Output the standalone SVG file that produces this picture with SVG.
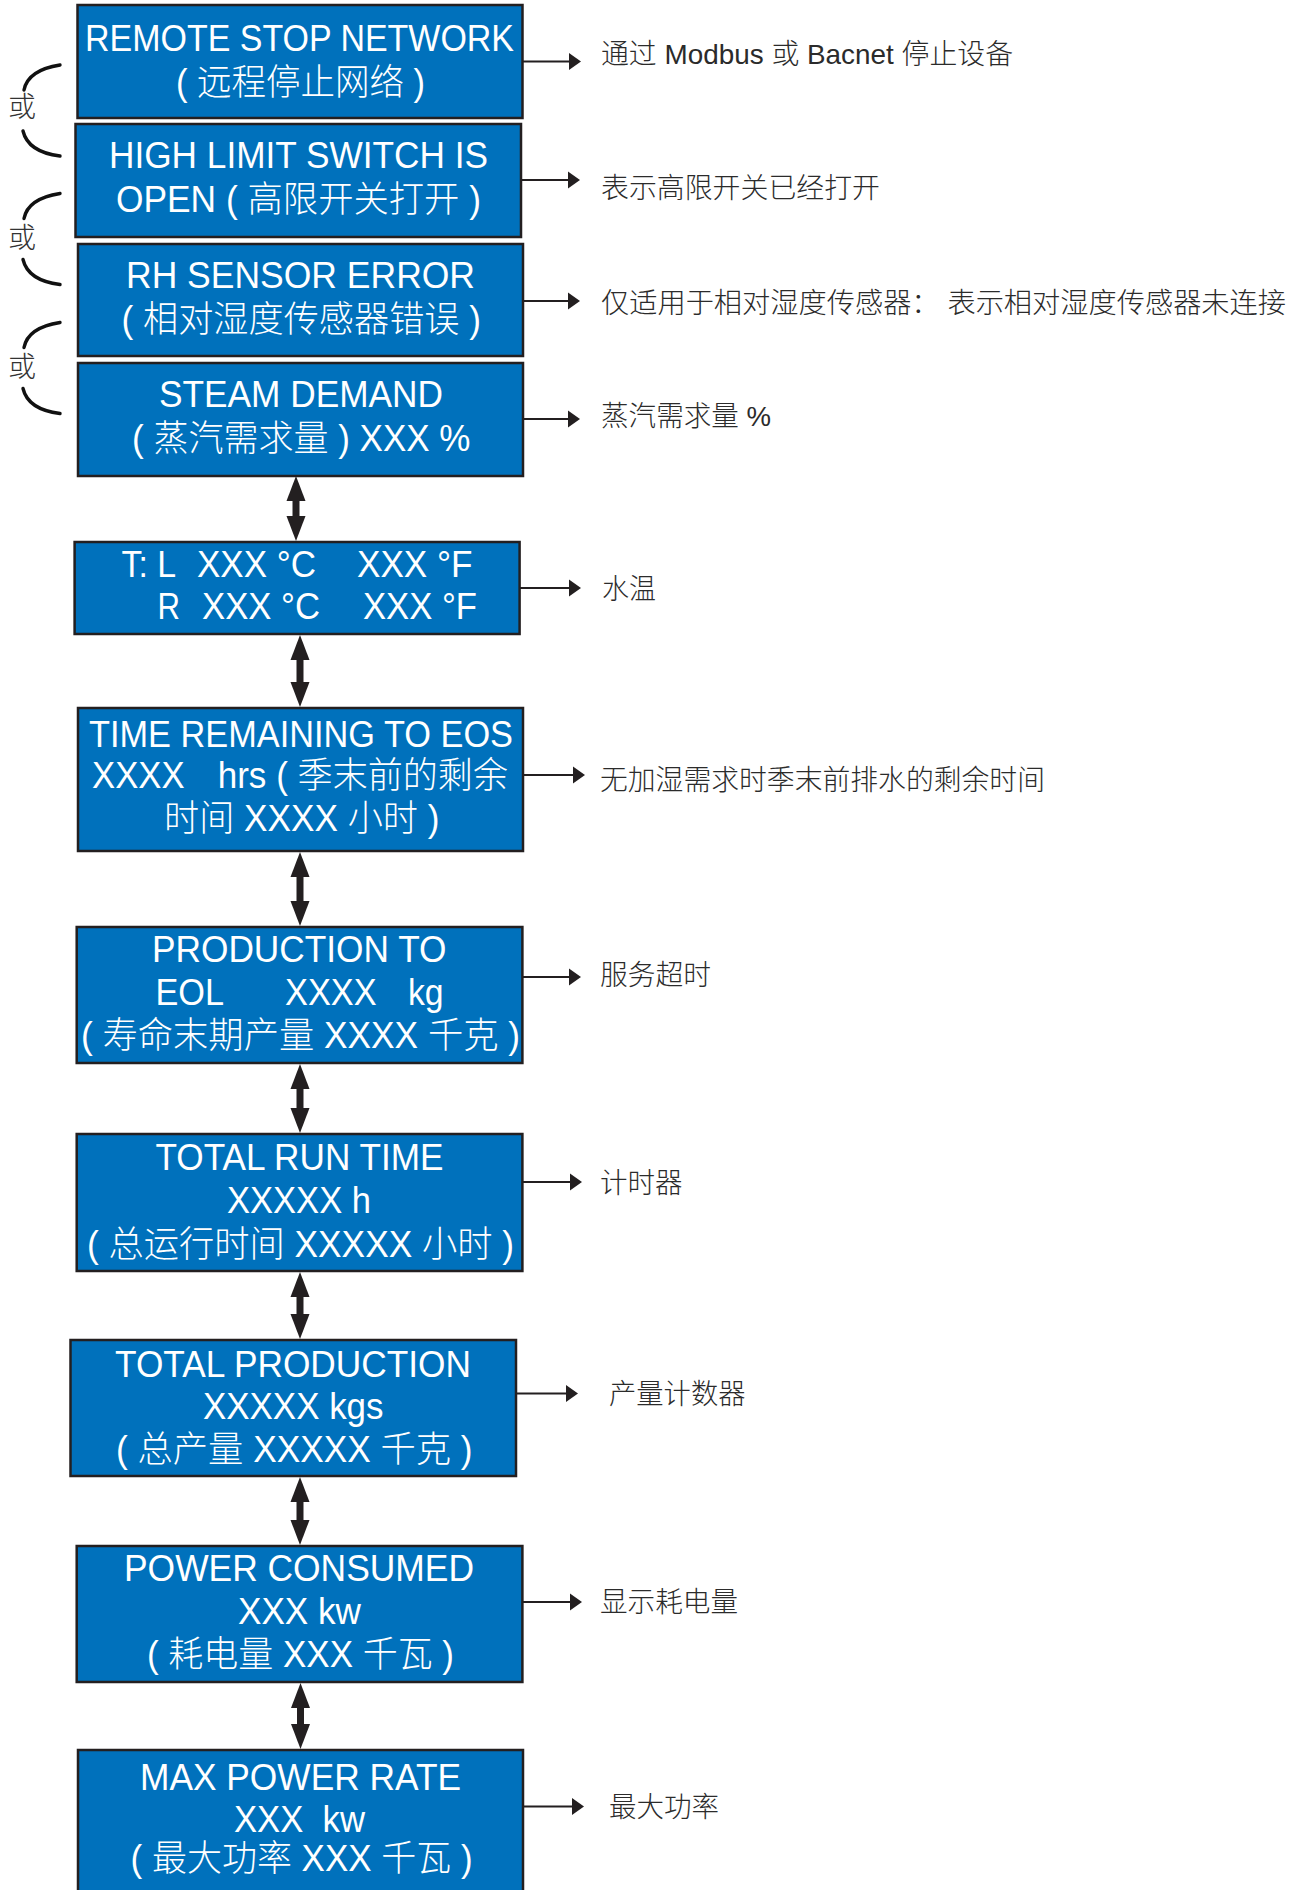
<svg xmlns="http://www.w3.org/2000/svg" width="1300" height="1890" viewBox="0 0 1300 1890">
<style>
.box{fill:#0071BC;stroke:#231F20;stroke-width:2.5}
.bt{font-family:"Liberation Sans","Noto Sans CJK SC",sans-serif;font-size:36px;fill:#ffffff;font-weight:300}
.rt{font-family:"Liberation Sans","Noto Sans CJK SC",sans-serif;font-size:28px;fill:#2b2b2b;font-weight:300}
.or{font-family:"Noto Sans CJK SC",sans-serif;font-size:28px;fill:#333333;font-weight:300}
.arc{fill:none;stroke:#111111;stroke-width:3.4;stroke-linecap:round}
.ra{stroke:#231F20;stroke-width:2;fill:none;marker-end:url(#rh)}
.da{stroke:#231F20;stroke-width:7;fill:none;marker-start:url(#dh);marker-end:url(#dh)}
</style>
<defs>
<marker id="rh" markerUnits="userSpaceOnUse" markerWidth="14" markerHeight="20" refX="0" refY="8.5" orient="auto" viewBox="0 0 14 17" overflow="visible">
<path d="M0,0 L12,8.5 L0,17 Z" fill="#231F20"/>
</marker>
<marker id="dh" markerUnits="userSpaceOnUse" markerWidth="26" markerHeight="20" refX="0" refY="9.5" orient="auto-start-reverse" viewBox="0 0 26 19" overflow="visible">
<path d="M0,0 L25,9.5 L0,19 Z" fill="#231F20"/>
</marker>
</defs>
<rect width="1300" height="1890" fill="#ffffff"/>

<g id="or-labels">
<g id="or1">
<path class="arc" d="M60,65 Q28,70 24,90"/>
<path class="arc" d="M23,131 Q28,152 60,156"/>
<text class="or" x="22" y="117" text-anchor="middle">或</text>
</g>
<g id="or2" transform="translate(0,128.5)">
<path class="arc" d="M60,65 Q28,70 24,90"/>
<path class="arc" d="M23,131 Q28,152 60,156"/>
<text class="or" x="22" y="119" text-anchor="middle">或</text>
</g>
<g id="or3" transform="translate(0,257.5)">
<path class="arc" d="M60,65 Q28,70 24,90"/>
<path class="arc" d="M23,131 Q28,152 60,156"/>
<text class="or" x="22" y="119" text-anchor="middle">或</text>
</g>
</g>

<g id="connectors">
<line class="da" x1="296" y1="501" x2="296" y2="516"/>
<line class="da" x1="300" y1="660" x2="300" y2="682"/>
<line class="da" x1="300" y1="877" x2="300" y2="901"/>
<line class="da" x1="300" y1="1089" x2="300" y2="1108"/>
<line class="da" x1="300" y1="1297" x2="300" y2="1314"/>
<line class="da" x1="300" y1="1502" x2="300" y2="1520"/>
<line class="da" x1="300.5" y1="1708" x2="300.5" y2="1724"/>

<line class="ra" x1="522" y1="61.5" x2="569" y2="61.5"/>
<line class="ra" x1="521" y1="180" x2="568" y2="180"/>
<line class="ra" x1="523" y1="301" x2="568" y2="301"/>
<line class="ra" x1="523" y1="419" x2="568" y2="419"/>
<line class="ra" x1="519.5" y1="588" x2="569" y2="588"/>
<line class="ra" x1="523" y1="775" x2="573" y2="775"/>
<line class="ra" x1="522.4" y1="977" x2="569" y2="977"/>
<line class="ra" x1="522.4" y1="1182" x2="570" y2="1182"/>
<line class="ra" x1="516" y1="1393.5" x2="566" y2="1393.5"/>
<line class="ra" x1="522.4" y1="1602" x2="570" y2="1602"/>
<line class="ra" x1="523" y1="1806.5" x2="572" y2="1806.5"/>
</g>

<g id="node1">
<rect class="box" x="77.5" y="5" width="445" height="113"/>
<text class="bt" x="85" y="51" textLength="429" lengthAdjust="spacingAndGlyphs">REMOTE STOP NETWORK</text>
<text class="bt" x="176" y="95" textLength="249" lengthAdjust="spacingAndGlyphs">( 远程停止网络 )</text>
</g>
<g id="node2">
<rect class="box" x="75.5" y="124" width="445.5" height="113"/>
<text class="bt" x="109" y="168" textLength="379" lengthAdjust="spacingAndGlyphs">HIGH LIMIT SWITCH IS</text>
<text class="bt" x="116" y="212" textLength="365" lengthAdjust="spacingAndGlyphs">OPEN ( 高限开关打开 )</text>
</g>
<g id="node3">
<rect class="box" x="78" y="244" width="445" height="112"/>
<text class="bt" x="126" y="288" textLength="349" lengthAdjust="spacingAndGlyphs">RH SENSOR ERROR</text>
<text class="bt" x="121.5" y="332" textLength="359.5" lengthAdjust="spacingAndGlyphs">( 相对湿度传感器错误 )</text>
</g>
<g id="node4">
<rect class="box" x="78" y="363" width="445" height="113"/>
<text class="bt" x="159" y="407" textLength="284" lengthAdjust="spacingAndGlyphs">STEAM DEMAND</text>
<text class="bt" x="132" y="451" textLength="338.5" lengthAdjust="spacingAndGlyphs">( 蒸汽需求量 ) XXX %</text>
</g>
<g id="node5">
<rect class="box" x="74.6" y="542" width="445" height="92"/>
<text class="bt" x="121.5" y="577" textLength="54.5" lengthAdjust="spacingAndGlyphs">T: L</text>
<text class="bt" x="197" y="577" textLength="119" lengthAdjust="spacingAndGlyphs">XXX °C</text>
<text class="bt" x="357" y="577" textLength="115.6" lengthAdjust="spacingAndGlyphs">XXX °F</text>
<text class="bt" x="157.5" y="619" textLength="22.5" lengthAdjust="spacingAndGlyphs">R</text>
<text class="bt" x="202" y="619" textLength="118" lengthAdjust="spacingAndGlyphs">XXX °C</text>
<text class="bt" x="363" y="619" textLength="114" lengthAdjust="spacingAndGlyphs">XXX °F</text>
</g>
<g id="node6">
<rect class="box" x="78" y="708" width="445" height="143"/>
<text class="bt" x="89" y="747" textLength="424" lengthAdjust="spacingAndGlyphs">TIME REMAINING TO EOS</text>
<text class="bt" x="92" y="788" textLength="92.5" lengthAdjust="spacingAndGlyphs">XXXX</text>
<text class="bt" x="217.7" y="788" textLength="290.3" lengthAdjust="spacingAndGlyphs">hrs ( 季末前的剩余</text>
<text class="bt" x="164" y="831" textLength="275.5" lengthAdjust="spacingAndGlyphs">时间 XXXX 小时 )</text>
</g>
<g id="node7">
<rect class="box" x="76.7" y="927" width="445.7" height="136"/>
<text class="bt" x="152" y="962" textLength="294.5" lengthAdjust="spacingAndGlyphs">PRODUCTION TO</text>
<text class="bt" x="155.5" y="1005" textLength="68.5" lengthAdjust="spacingAndGlyphs">EOL</text>
<text class="bt" x="285" y="1005" textLength="91.5" lengthAdjust="spacingAndGlyphs">XXXX</text>
<text class="bt" x="408" y="1005" textLength="35.6" lengthAdjust="spacingAndGlyphs">kg</text>
<text class="bt" x="81" y="1048" textLength="439" lengthAdjust="spacingAndGlyphs">( 寿命末期产量 XXXX 千克 )</text>
</g>
<g id="node8">
<rect class="box" x="76.7" y="1134" width="445.7" height="137"/>
<text class="bt" x="155.5" y="1170" textLength="288" lengthAdjust="spacingAndGlyphs">TOTAL RUN TIME</text>
<text class="bt" x="227" y="1213" textLength="144" lengthAdjust="spacingAndGlyphs">XXXXX h</text>
<text class="bt" x="87" y="1257" textLength="427" lengthAdjust="spacingAndGlyphs">( 总运行时间 XXXXX 小时 )</text>
</g>
<g id="node9">
<rect class="box" x="70.5" y="1340" width="445.5" height="136"/>
<text class="bt" x="115" y="1377" textLength="356" lengthAdjust="spacingAndGlyphs">TOTAL PRODUCTION</text>
<text class="bt" x="203" y="1419" textLength="180.5" lengthAdjust="spacingAndGlyphs">XXXXX kgs</text>
<text class="bt" x="116" y="1462" textLength="356.6" lengthAdjust="spacingAndGlyphs">( 总产量 XXXXX 千克 )</text>
</g>
<g id="node10">
<rect class="box" x="76.7" y="1546" width="445.7" height="136"/>
<text class="bt" x="124" y="1581" textLength="350" lengthAdjust="spacingAndGlyphs">POWER CONSUMED</text>
<text class="bt" x="238" y="1623.5" textLength="123" lengthAdjust="spacingAndGlyphs">XXX kw</text>
<text class="bt" x="147" y="1667" textLength="307" lengthAdjust="spacingAndGlyphs">( 耗电量 XXX 千瓦 )</text>
</g>
<g id="node11">
<rect class="box" x="78" y="1750" width="445" height="160"/>
<text class="bt" x="140" y="1790" textLength="321" lengthAdjust="spacingAndGlyphs">MAX POWER RATE</text>
<text class="bt" x="234" y="1832" textLength="131" lengthAdjust="spacingAndGlyphs" style="white-space:pre">XXX  kw</text>
<text class="bt" x="130.6" y="1871" textLength="342" lengthAdjust="spacingAndGlyphs">( 最大功率 XXX 千瓦 )</text>
</g>

<g id="annotations">
<text id="ann1" class="rt" x="601" y="64" textLength="412" lengthAdjust="spacingAndGlyphs">通过 Modbus 或 Bacnet 停止设备</text>
<text id="ann2" class="rt" x="601" y="198" textLength="279" lengthAdjust="spacingAndGlyphs">表示高限开关已经打开</text>
<text id="ann3" class="rt" x="601" y="313" textLength="685" lengthAdjust="spacingAndGlyphs">仅适用于相对湿度传感器： 表示相对湿度传感器未连接</text>
<text id="ann4" class="rt" x="601" y="426" textLength="170" lengthAdjust="spacingAndGlyphs">蒸汽需求量 %</text>
<text id="ann5" class="rt" x="602" y="599" textLength="54" lengthAdjust="spacingAndGlyphs">水温</text>
<text id="ann6" class="rt" x="600" y="790" textLength="445" lengthAdjust="spacingAndGlyphs">无加湿需求时季末前排水的剩余时间</text>
<text id="ann7" class="rt" x="600" y="985" textLength="111" lengthAdjust="spacingAndGlyphs">服务超时</text>
<text id="ann8" class="rt" x="600" y="1193" textLength="82.5" lengthAdjust="spacingAndGlyphs">计时器</text>
<text id="ann9" class="rt" x="609" y="1404" textLength="136.5" lengthAdjust="spacingAndGlyphs">产量计数器</text>
<text id="ann10" class="rt" x="600" y="1612" textLength="138" lengthAdjust="spacingAndGlyphs">显示耗电量</text>
<text id="ann11" class="rt" x="609" y="1817" textLength="110" lengthAdjust="spacingAndGlyphs">最大功率</text>
</g>
</svg>
